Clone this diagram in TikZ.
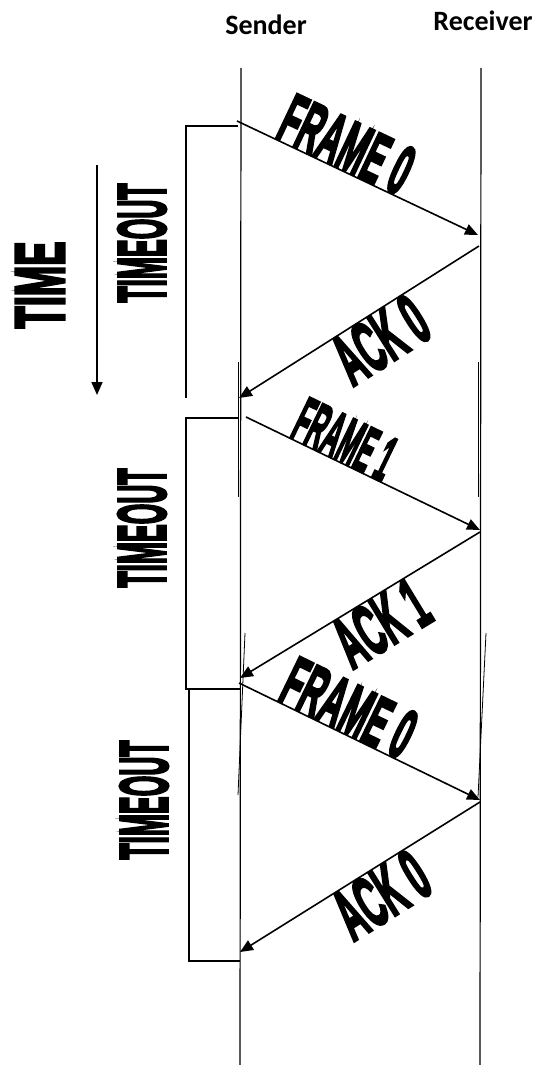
\documentclass[tikz,border=0pt]{standalone}
\usepackage{fontspec}
\setmainfont{Liberation Sans}
\newfontfamily\namefont{Carlito}
\newfontfamily\heavyfont{Liberation Sans}[FakeBold=4.5]
\usetikzlibrary{arrows.meta}

\tikzset{
  lifeline/.style={line width=1.2pt},
  extra/.style={line width=0.8pt},
  timer/.style={line width=1.1pt},
  msg/.style={line width=1.6pt, -{Triangle[length=13pt,width=11pt]}},
  heavy/.style={font=\heavyfont\bfseries\fontsize{#1}{#1}\selectfont, inner sep=0pt, outer sep=1pt},
  party/.style={font=\namefont\bfseries\fontsize{28}{28}\selectfont},
}
\newcommand{\squash}[2]{\scalebox{#1}[1]{#2}}

\begin{document}
\begin{tikzpicture}[x=1pt,y=-1pt]
\useasboundingbox (0,0) rectangle (540,1065);

\node[party] (snd) at (266,25) {Sender};
\node[party] (rcv) at (483,21) {Receiver};

% time lines
\coordinate (stop) at (241,68);
\coordinate (sbot) at (240,1065);
\coordinate (rtop) at (481,68);
\coordinate (rbot) at (480,1065);
\draw[lifeline] (stop) -- (sbot);
\draw[lifeline] (rtop) -- (rbot);
\draw[extra] (238,362) -- (238,497);
\draw[extra] (478,362) -- (478,497);
\draw[extra] (245,633) -- (238,795);
\draw[extra] (486,633) -- (478,797);

% time arrow
\node[heavy=70, rotate=90] (timelbl) at (40,285) {\squash{0.52}{TIME}};
\coordinate (ttop) at (97,165);
\coordinate (tbot) at (97,395);
\draw[msg] (ttop) -- (tbot);

% timeouts
\draw[timer] (238,126) -- (186,126) -- (186,398);
\draw[timer] (238,418) -- (186,418) -- (186,689) -- (240,689);
\draw[timer] (189,689) -- (189,961) -- (240,961);
\node[heavy=68, rotate=90] (tmo1) at (142,243) {\squash{0.39}{TIMEOUT}};
\node[heavy=68, rotate=90] (tmo2) at (142,528) {\squash{0.39}{TIMEOUT}};
\node[heavy=68, rotate=90] (tmo3) at (144,800) {\squash{0.39}{TIMEOUT}};

% frames and acks
\coordinate (s0) at (237,121);
\coordinate (r0) at (478,235);
\coordinate (r0a) at (479,246);
\coordinate (s0a) at (239,398);
\coordinate (s1) at (246,417);
\coordinate (r1) at (480,530);
\coordinate (r1a) at (480,532);
\coordinate (s1a) at (240,678);
\coordinate (s2) at (239,683);
\coordinate (r2) at (480,800);
\coordinate (r2a) at (480,802);
\coordinate (s2a) at (240,952);

\draw[msg] (s0) -- node[heavy=70, sloped, above, pos=0.41] {\squash{0.45}{FRAME 0}} (r0);
\draw[msg] (r0a) -- node[heavy=72, sloped, below, pos=0.47] {\squash{0.45}{ACK 0}} (s0a);
\draw[msg] (s1) -- node[heavy=64, sloped, above, pos=0.38] {\squash{0.37}{FRAME 1}} (r1);
\draw[msg] (r1a) -- node[heavy=72, sloped, below, pos=0.47] {\squash{0.45}{ACK 1}} (s1a);
\draw[msg] (s2) -- node[heavy=70, sloped, above, pos=0.41] {\squash{0.45}{FRAME 0}} (r2);
\draw[msg] (r2a) -- node[heavy=72, sloped, below, pos=0.47] {\squash{0.45}{ACK 0}} (s2a);
\end{tikzpicture}
\end{document}
